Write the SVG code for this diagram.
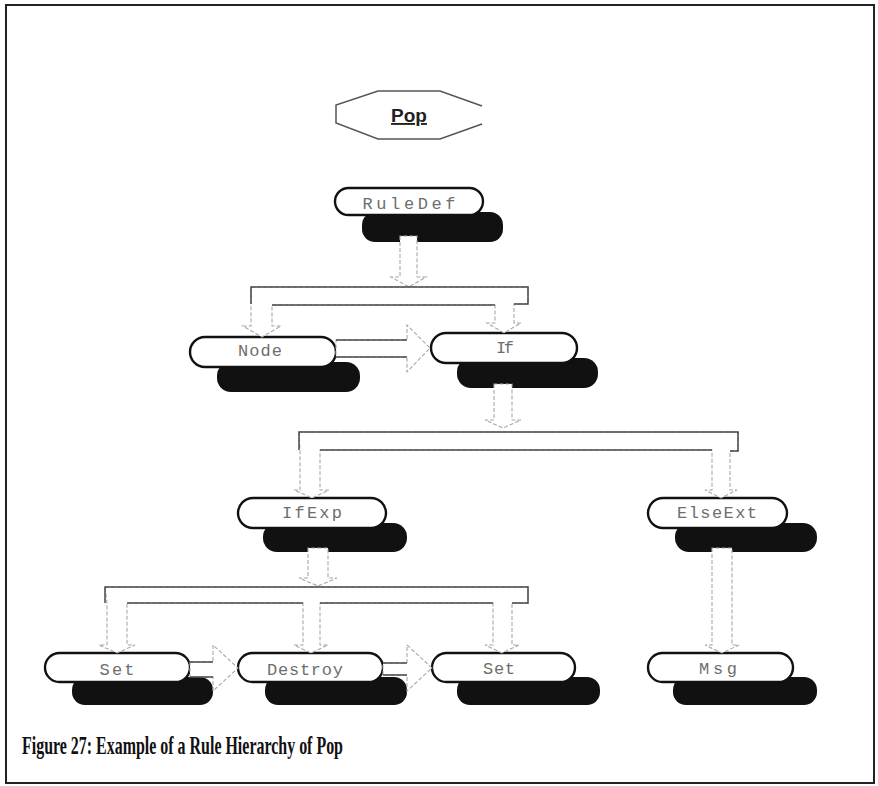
<svg xmlns="http://www.w3.org/2000/svg" width="878" height="786" viewBox="0 0 878 786">
  <style>
    .pill { fill: #ffffff; stroke: #111111; stroke-width: 2.4; }
    .shadow { fill: #111111; stroke: none; }
    .label { font-family: "Liberation Mono", "DejaVu Sans Mono", monospace; font-size: 17px; fill: #6e6e6e; text-anchor: middle; }
    .conn { fill: #ffffff; stroke: #a8a8a8; stroke-width: 1.1; stroke-dasharray: 4 2; stroke-linejoin: miter; }
    .rail { fill: none; stroke: #484848; stroke-width: 1.5; }
    .title { font-family: "Liberation Sans", Arial, sans-serif; font-size: 19px; font-weight: bold; fill: #222222; text-anchor: middle; text-decoration: underline; }
    .caption { font-family: "Liberation Serif", "Times New Roman", serif; font-size: 26px; font-weight: bold; fill: #111111; }
  </style>

  <rect x="0" y="0" width="878" height="786" fill="#ffffff"/>
  <!-- frame -->
  <rect x="6" y="5" width="868" height="778" fill="none" stroke="#222222" stroke-width="2"/>

  <!-- rule name banner -->
  <g id="pop">
    <polyline points="482,106 440,91 378,91 336,105 336,123 378,139 440,139 482,124" fill="none" stroke="#555555" stroke-width="1.5"/>
    <text class="title" x="409" y="122">Pop</text>
  </g>

  <!-- nodes -->
  <g id="node-ruledef">
    <rect class="shadow" x="362" y="212" width="141" height="30" rx="13"/>
    <rect class="pill" x="335" y="188" width="148" height="27" rx="13.5"/>
    <text class="label" x="409" y="209" textLength="93">RuleDef</text>
  </g>
  <g id="node-node">
    <rect class="shadow" x="217" y="362" width="143" height="30" rx="14"/>
    <rect class="pill" x="190" y="337" width="146" height="30" rx="15"/>
    <text class="label" x="260" y="356" textLength="44">Node</text>
  </g>
  <g id="node-if">
    <rect class="shadow" x="457" y="358" width="141" height="30" rx="14"/>
    <rect class="pill" x="431" y="333" width="146" height="30" rx="15"/>
    <text class="label" x="505" y="353" textLength="18">If</text>
  </g>
  <g id="node-ifexp">
    <rect class="shadow" x="263" y="523" width="144" height="29" rx="14"/>
    <rect class="pill" x="238" y="498" width="148" height="30" rx="15"/>
    <text class="label" x="312" y="518" textLength="60">IfExp</text>
  </g>
  <g id="node-elseext">
    <rect class="shadow" x="675" y="523" width="142" height="29" rx="14"/>
    <rect class="pill" x="648" y="498" width="139" height="30" rx="15"/>
    <text class="label" x="717" y="518" textLength="80">ElseExt</text>
  </g>
  <g id="node-set-1">
    <rect class="shadow" x="72" y="677" width="141" height="28" rx="13"/>
    <rect class="pill" x="45" y="653" width="145" height="29" rx="14.5"/>
    <text class="label" x="117" y="675" textLength="35">Set</text>
  </g>
  <g id="node-destroy">
    <rect class="shadow" x="265" y="677" width="142" height="28" rx="13"/>
    <rect class="pill" x="238" y="653" width="145" height="29" rx="14.5"/>
    <text class="label" x="305" y="675" textLength="76">Destroy</text>
  </g>
  <g id="node-set-2">
    <rect class="shadow" x="457" y="677" width="143" height="28" rx="13"/>
    <rect class="pill" x="432" y="653" width="143" height="29" rx="14.5"/>
    <text class="label" x="499" y="674" textLength="32">Set</text>
  </g>
  <g id="node-msg">
    <rect class="shadow" x="673" y="677" width="144" height="28" rx="13"/>
    <rect class="pill" x="648" y="653" width="145" height="29" rx="14.5"/>
    <text class="label" x="718" y="674" textLength="38">Msg</text>
  </g>

  <!-- connectors: hollow block arrows -->
  <g id="connectors">
    <!-- RuleDef down to its branch bar -->
    <polygon class="conn" points="400,236 400,277 391,277 409,287 426,277 417,277 417,236"/>
    <!-- branch bar: Node, If -->
    <polygon class="conn" points="251,287 528,287 528,304 514,304 514,323 521,323 504,333 487,323 495,323 495,305 272,305 272,326 281,326 262,337 243,326 251,326"/>
    <polyline class="rail" points="251,304 251,287 528,287 528,304 514,304"/>
    <line class="rail" x1="272" y1="305" x2="495" y2="305"/>
    <!-- Node to If -->
    <polygon class="conn" points="336,340 407,340 407,325 430,348 407,372 407,357 336,357"/>
    <line class="rail" x1="336" y1="340" x2="407" y2="340"/>
    <line class="rail" x1="336" y1="357" x2="407" y2="357"/>
    <!-- If down to its branch bar -->
    <polygon class="conn" points="494,384 494,420 485,420 503,428 521,420 512,420 512,384"/>
    <!-- branch bar: IfExp, ElseExt -->
    <polygon class="conn" points="299,432 738,432 738,451 730,451 730,490 737,490 721,498 705,490 712,490 712,450 320,450 320,490 329,490 312,498 294,490 300,490 300,451"/>
    <polyline class="rail" points="299,450 299,432 738,432 738,451 730,451"/>
    <line class="rail" x1="320" y1="450" x2="712" y2="450"/>
    <!-- IfExp down to its branch bar -->
    <polygon class="conn" points="308,548 308,578 299,578 318,586 337,578 328,578 328,548"/>
    <!-- branch bar: Set, Destroy, Set -->
    <polygon class="conn" points="105,587 528,587 528,603 512,603 512,645 519,645 502,653 485,645 493,645 493,603 320,603 320,645 328,645 311,653 294,645 303,645 303,603 127,603 127,645 135,645 117,653 99,645 107,645 107,603"/>
    <polyline class="rail" points="105,603 105,587 528,587 528,603 512,603"/>
    <line class="rail" x1="127" y1="603" x2="303" y2="603"/>
    <line class="rail" x1="320" y1="603" x2="493" y2="603"/>
    <!-- ElseExt down to Msg -->
    <polygon class="conn" points="712,548 712,645 705,645 722,653 739,645 732,645 732,548"/>
    <!-- Set to Destroy -->
    <polygon class="conn" points="190,662 213,662 213,645 238,668 213,691 213,677 190,677"/>
    <line class="rail" x1="190" y1="662" x2="213" y2="662"/>
    <line class="rail" x1="190" y1="677" x2="213" y2="677"/>
    <!-- Destroy to Set -->
    <polygon class="conn" points="383,663 407,663 407,645 432,668 407,691 407,675 383,675"/>
    <line class="rail" x1="383" y1="663" x2="407" y2="663"/>
    <line class="rail" x1="383" y1="675" x2="407" y2="675"/>
  </g>

  <text class="caption" x="22" y="754" textLength="321" lengthAdjust="spacingAndGlyphs">Figure 27: Example of a Rule Hierarchy of Pop</text>
</svg>
